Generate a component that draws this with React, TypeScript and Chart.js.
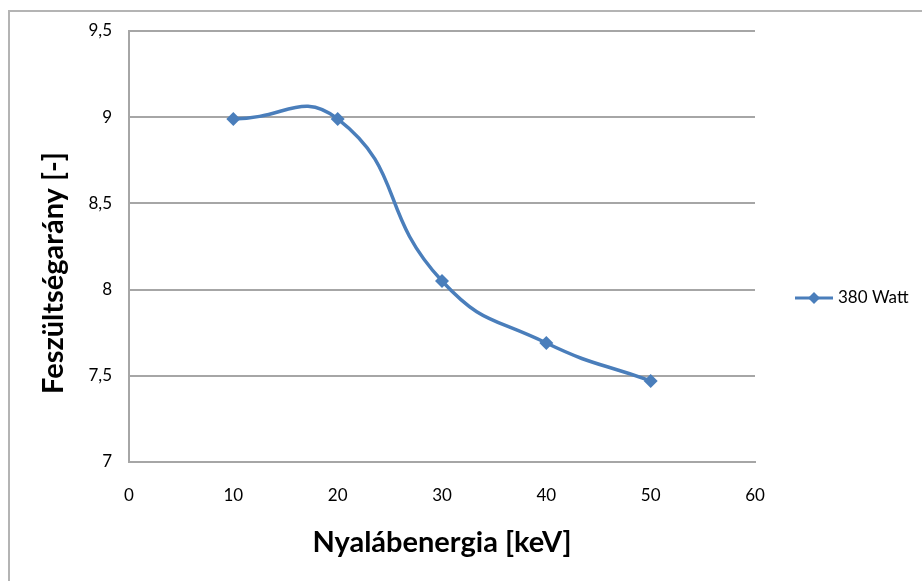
import React, { useEffect, useRef } from "react";
import { Chart, registerables } from "chart.js";

Chart.register(...registerables);

const energies = [10, 20, 30, 40, 50];
const ratios = [8.99, 8.99, 8.05, 7.69, 7.47];
const seriesLabel = "380 Watt";
const xTitle = "Nyalábenergia [keV]";
const yTitle = "Feszültségarány [-]";

const LINE_BLUE = "#4a7ebb";
const GRID_GREY = "#a6a6a6";
const FONT = "Lato, 'Open Sans', sans-serif";

// Draws the axis titles and the single-entry legend on the right.
const decorations = {
  id: "decorations",
  afterDraw(chart: Chart) {
    const { ctx, chartArea } = chart;
    ctx.save();
    ctx.fillStyle = "#000";
    ctx.textAlign = "center";
    ctx.textBaseline = "middle";
    ctx.font = `bold 29px ${FONT}`;
    ctx.fillText(xTitle, (chartArea.left + chartArea.right) / 2, 543);

    ctx.translate(54, 273);
    ctx.rotate(-Math.PI / 2);
    ctx.fillText(yTitle, 0, 0);
    ctx.restore();

    // legend
    const ly = 298;
    ctx.save();
    ctx.strokeStyle = LINE_BLUE;
    ctx.lineWidth = 3;
    ctx.beginPath();
    ctx.moveTo(795, ly);
    ctx.lineTo(833, ly);
    ctx.stroke();
    ctx.fillStyle = LINE_BLUE;
    ctx.beginPath();
    ctx.moveTo(814 - 6, ly);
    ctx.lineTo(814, ly - 6);
    ctx.lineTo(814 + 6, ly);
    ctx.lineTo(814, ly + 6);
    ctx.closePath();
    ctx.fill();
    ctx.fillStyle = "#000";
    ctx.font = `17px ${FONT}`;
    ctx.textAlign = "left";
    ctx.textBaseline = "middle";
    ctx.fillText(seriesLabel, 838, ly);
    ctx.restore();
  },
};

export default function App() {
  const canvasRef = useRef<HTMLCanvasElement | null>(null);

  useEffect(() => {
    const canvas = canvasRef.current;
    if (!canvas) return;
    const chart = new Chart(canvas, {
      type: "line",
      data: {
        datasets: [
          {
            label: seriesLabel,
            data: energies.map((x, i) => ({ x, y: ratios[i] })),
            borderColor: LINE_BLUE,
            backgroundColor: LINE_BLUE,
            borderWidth: 3.5,
            tension: 0.5,
            pointStyle: "rectRot",
            pointRadius: 7,
            pointBorderWidth: 0,
            pointBackgroundColor: LINE_BLUE,
          },
        ],
      },
      options: {
        responsive: false,
        animation: false,
        events: [],
        layout: { padding: { left: 0, top: 31, right: 167, bottom: 0 } },
        plugins: {
          legend: { display: false },
          tooltip: { enabled: false },
        },
        scales: {
          x: {
            type: "linear",
            min: 0,
            max: 60,
            ticks: {
              stepSize: 10,
              color: "#000",
              font: { family: FONT, size: 17 },
              padding: 23,
            },
            grid: { display: false, drawTicks: false },
            border: { display: true, color: GRID_GREY, width: 2 },
            afterFit(scale: any) {
              scale.height = 119;
            },
          },
          y: {
            min: 7,
            max: 9.5,
            ticks: {
              stepSize: 0.5,
              color: "#000",
              font: { family: FONT, size: 17 },
              padding: 17,
              callback: (v: any) => String(v).replace(".", ","),
            },
            grid: { color: GRID_GREY, lineWidth: 2, drawTicks: false },
            border: { display: true, color: GRID_GREY, width: 2 },
            afterFit(scale: any) {
              scale.width = 129;
            },
          },
        },
      },
      plugins: [decorations],
    });
    return () => chart.destroy();
  }, []);

  return (
    <div
      style={{
        position: "fixed",
        left: 0,
        top: 0,
        width: 922,
        height: 581,
        overflow: "hidden",
        background: "#fff",
      }}
    >
      <div
        style={{
          position: "absolute",
          left: 8,
          top: 10,
          width: 960,
          height: 620,
          border: "2px solid #b4b4b4",
        }}
      />
      <canvas
        ref={canvasRef}
        width={922}
        height={581}
        style={{ position: "absolute", left: 0, top: 0 }}
      />
    </div>
  );
}
